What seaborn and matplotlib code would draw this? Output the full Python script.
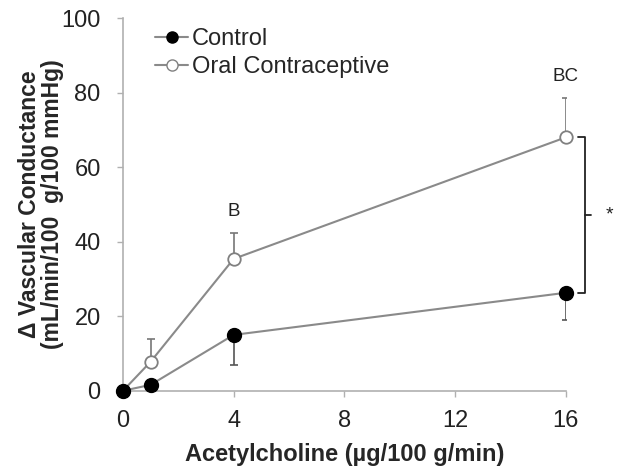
import numpy as np
import pandas as pd
import matplotlib
matplotlib.use("Agg")
import matplotlib.pyplot as plt
import seaborn as sns
from matplotlib.lines import Line2D

# dose (ug/100 g/min)
dose = [0, 1, 4, 16]
control = [0, 1.6, 15, 26.3]
control_err = [0, 0, 8, 7.3]      # lower bars only
oc = [0, 7.8, 35.4, 68]
oc_err = [0, 6, 7, 10.5]          # upper bars only

sns.set_theme(style="white")
plt.rcParams['font.family'] = ['Liberation Sans', 'DejaVu Sans']

df = pd.DataFrame({
    'dose': dose * 2,
    'value': control + oc,
    'group': ['Control'] * 4 + ['Oral Contraceptive'] * 4,
})

fig = plt.figure(figsize=(6.21, 4.76), dpi=100)
ax = fig.add_axes([0.198, 0.179, 0.713, 0.783])

line_col = '#8a8a8a'

# error bars first so markers sit on top
ax.errorbar(dose, control, yerr=[control_err, [0] * 4], fmt='none',
            ecolor='#555555', elinewidth=1.2, capsize=3, capthick=1.2)
ax.errorbar(dose, oc, yerr=[[0] * 4, oc_err], fmt='none',
            ecolor='#777777', elinewidth=1.2, capsize=3, capthick=1.2)

sns.lineplot(data=df, x='dose', y='value', hue='group',
             palette={'Control': line_col, 'Oral Contraceptive': line_col},
             linewidth=1.5, ax=ax, legend=False)

# marker faces (oc first, control on top at the origin)
ax.plot(dose, oc, 'o', markerfacecolor='white', markeredgecolor='#808080',
        markeredgewidth=1.3, markersize=9, zorder=5, clip_on=False)
ax.plot(dose, control, 'o', color='black', markersize=10, zorder=6,
        clip_on=False)

# legend proxies
handles = [
    Line2D([], [], color=line_col, lw=1.5, marker='o', markerfacecolor='black',
           markeredgecolor='black', markersize=8),
    Line2D([], [], color=line_col, lw=1.5, marker='o', markerfacecolor='white',
           markeredgecolor='#808080', markersize=8),
]
ax.legend(handles, ['Control', 'Oral Contraceptive'], loc='upper left',
          bbox_to_anchor=(0.025, 1.03), frameon=False, fontsize=17,
          handlelength=1.4, handletextpad=0.15, labelspacing=0.25)

ax.set_xlim(0, 16)
ax.set_ylim(0, 100)
ax.set_xticks([0, 4, 8, 12, 16])
ax.set_yticks([0, 20, 40, 60, 80, 100])
ax.tick_params(axis='both', direction='out', length=4, width=1, color='#b0b0b0',
               labelsize=17, labelcolor='#222222', left=True, bottom=True)
ax.tick_params(axis='x', pad=10)
ax.tick_params(axis='y', pad=12)
for s in ['top', 'right']:
    ax.spines[s].set_visible(False)
for s in ['left', 'bottom']:
    ax.spines[s].set_color('#b0b0b0')
    ax.spines[s].set_linewidth(1.2)
    ax.spines[s].set_zorder(1)

ax.set_xlabel('Acetylcholine (µg/100 g/min)', fontsize=17, fontweight='bold',
              labelpad=8)
ax.set_ylabel('Δ Vascular Conductance\n(mL/min/100  g/100 mmHg)', fontsize=16.5,
              fontweight='bold', labelpad=-2, linespacing=1.0)

# significance letters
ax.text(4, oc[2] + oc_err[2] + 3.5, 'B', ha='center', va='bottom', fontsize=13.5,
        color='#222222')
ax.text(16, oc[3] + oc_err[3] + 3.5, 'BC', ha='center', va='bottom',
        fontsize=13.5, color='#222222')

# bracket between groups at top dose
bx = 16.7
ax.plot([16.45, bx, bx, 16.45], [oc[3], oc[3], control[3], control[3]],
        color='#222222', lw=1.3, clip_on=False)
mid = (oc[3] + control[3]) / 2
ax.plot([bx, bx + 0.2], [mid, mid], color='#222222', lw=1.3, clip_on=False)
ax.text(bx + 0.75, mid, '*', ha='left', va='center', fontsize=14, color='#222222')

fig.savefig('out.png', dpi=100)
